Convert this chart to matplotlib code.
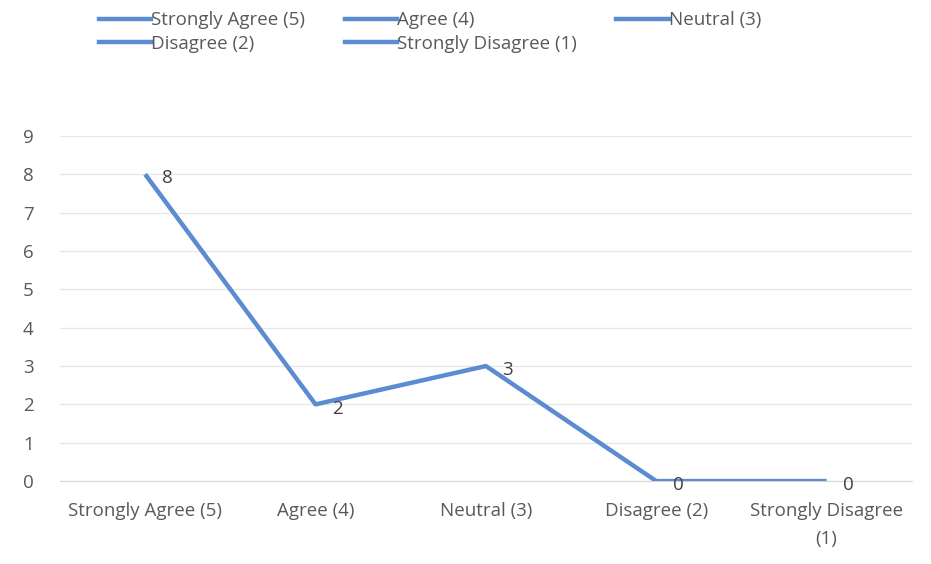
import matplotlib
matplotlib.use("Agg")
import matplotlib.pyplot as plt
from matplotlib.lines import Line2D

categories = ["Strongly Agree (5)", "Agree (4)", "Neutral (3)",
              "Disagree (2)", "Strongly Disagree (1)"]
tick_labels = ["Strongly Agree (5)", "Agree (4)", "Neutral (3)",
               "Disagree (2)", "Strongly Disagree\n(1)"]
counts = [8, 2, 3, 0, 0]
y_ticks = list(range(0, 10))

line_col = "#5b8bd0"
text_col = "#595959"
fs = 13.5

plt.rcParams['font.family'] = ['Open Sans', 'DejaVu Sans']

fig = plt.figure(figsize=(9.31, 5.64), dpi=100)
ax = fig.add_axes([0.0644, 0.147, 0.915, 0.612])

x = range(len(categories))
ax.plot(x, counts, color=line_col, lw=3.2, solid_capstyle='butt', zorder=3)
for xi, v in zip(x, counts):
    ax.annotate(str(v), (xi, v), xytext=(12, -3), textcoords='offset points',
                ha='left', va='center', fontsize=fs, color="#404040")

ax.set_xlim(-0.5, len(categories) - 0.5)
ax.set_ylim(0, 9)
ax.set_yticks(y_ticks)
ax.set_xticks(list(x))
ax.set_xticklabels(tick_labels, linespacing=1.75)
ax.tick_params(axis='both', length=0, labelsize=fs, labelcolor=text_col)
ax.tick_params(axis='y', pad=19)
ax.tick_params(axis='x', pad=15)
ax.grid(axis='y', color='#e6e6e6', lw=0.9)
ax.set_axisbelow(True)
for s in ['top', 'right', 'left']:
    ax.spines[s].set_visible(False)
ax.spines['bottom'].set_color('#d6d6d6')

# legend fills column by column, so order it to read across the rows
order = [0, 3, 1, 4, 2]
handles = [Line2D([], [], color=line_col, lw=3.2) for _ in categories]
fig.legend([handles[i] for i in order], [categories[i] for i in order],
           ncol=3, loc='upper left',
           bbox_to_anchor=(0.088, 1.01), frameon=False, fontsize=fs,
           labelcolor=text_col, handlelength=2.8, handletextpad=0.0,
           columnspacing=2.1, labelspacing=0.3)

fig.savefig("out.png", dpi=100)
